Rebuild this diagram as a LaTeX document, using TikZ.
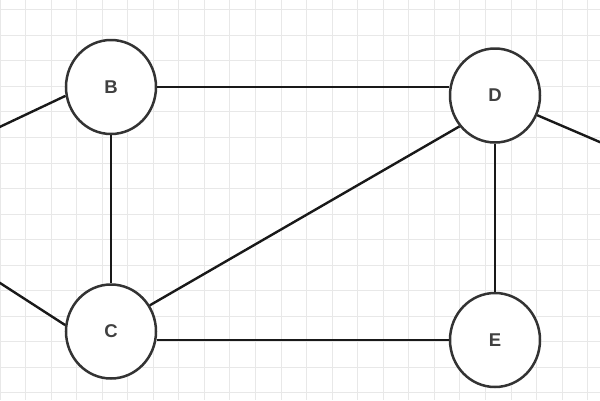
\documentclass[tikz,border=0pt]{standalone}
\usepackage{fontspec}
\setmainfont{Liberation Sans}
\usetikzlibrary{shapes.geometric}
\definecolor{gridc}{HTML}{E8E8E8}
\definecolor{ringc}{HTML}{333333}
\definecolor{txtc}{HTML}{404040}
\tikzset{
  vert/.style={ellipse, draw=ringc, line width=2.5pt, fill=white, minimum width=90pt, minimum height=94pt, inner sep=0pt, text=txtc, font=\fontsize{18.5}{18.5}\selectfont\bfseries},
  edge/.style={draw=black!90, line width=2.4pt},
  gridline/.style={draw=gridc, line width=1pt}
}
\begin{document}
\begin{tikzpicture}[x=1pt,y=-1pt]
\useasboundingbox (0,0) rectangle (600,400);
\clip (0,0) rectangle (600,400);
\fill[white] (0,0) rectangle (600,400);
\foreach \i in {0,...,24} { \draw[gridline] (\i*25.55,0) -- (\i*25.55,400); }
\foreach \j in {0,...,15} { \draw[gridline] (0,9.7+\j*25.55) -- (600,9.7+\j*25.55); }
\node[vert] (B) at (111,87) {B};
\node[vert] (C) at (111,331.5) {C};
\node[vert] (D) at (495,95.5) {D};
\node[vert] (E) at (495,340) {E};
\coordinate (L1) at (-30,141);
\coordinate (L2) at (-30,263.6);
\coordinate (R1) at (630,155);
\draw[edge] (B.east) -- (B.east -| D.west);
\draw[edge] (B) -- (C);
\draw[edge] (D) -- (E);
\draw[edge] (E.west -| C.east) -- (E.west);
\draw[edge] (C.34) -- (D.221);
\draw[edge] (B.191) -- (L1);
\draw[edge] (C.172) -- (L2);
\draw[edge] (D.-25) -- (R1);
\end{tikzpicture}
\end{document}
